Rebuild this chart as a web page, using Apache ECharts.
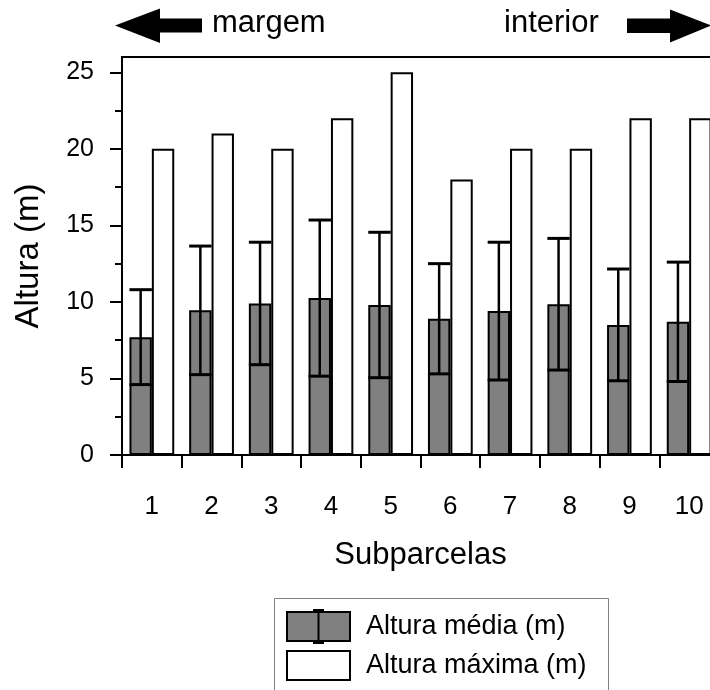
<!DOCTYPE html>
<html>
<head>
<meta charset="utf-8">
<title>Altura por subparcela</title>
<script src="https://cdn.jsdelivr.net/npm/echarts@6/dist/echarts.min.js"></script>
<style>
  html, body { margin: 0; padding: 0; background: #fff; }
  #chart { width: 710px; height: 690px; }
</style>
</head>
<body>
<div id="chart"></div>
<script>
// Subplots ordered from the forest edge (margem) to the interior
const subparcelas = ['1', '2', '3', '4', '5', '6', '7', '8', '9', '10'];
// Mean tree height per subplot (m)
const alturaMedia = [7.7, 9.45, 9.9, 10.25, 9.8, 8.9, 9.4, 9.85, 8.5, 8.7];
// Standard deviation of the height (m), drawn as error bars
const desvioPadrao = [3.1, 4.2, 4.0, 5.1, 4.75, 3.6, 4.5, 4.3, 3.65, 3.9];
// Maximum tree height per subplot (m)
const alturaMaxima = [20, 21, 20, 22, 25, 18, 20, 20, 22, 22];
// Y axis tick values
const ticksPrincipais = [0, 5, 10, 15, 20, 25];
const ticksSecundarios = [2.5, 7.5, 12.5, 17.5, 22.5];

const NOME_MEDIA = 'Altura média (m)';
const NOME_MAXIMA = 'Altura máxima (m)';
const FONTE = '"Liberation Sans", Arial, Helvetica, sans-serif';
const CATEGORY_GAP = 0.25;

const chart = echarts.init(document.getElementById('chart'), null, { renderer: 'canvas' });

const erroDados = alturaMedia.map((m, i) => [i, m, desvioPadrao[i]]);

// Whisker-on-box glyph for the mean series legend entry (63 x 33 box)
const iconeMedia = 'path://M0,2 L63,2 L63,31 L0,31 Z M31.5,0 L31.5,33 M26,0 L37,0 M26,33 L37,33';

const option = {
  backgroundColor: '#fff',
  animation: false,
  textStyle: { fontFamily: FONTE, color: '#000' },
  grid: {
    left: 122, top: 57, right: -9, bottom: 235,
    show: true, borderColor: '#000', borderWidth: 2,
    backgroundColor: 'transparent',
    containLabel: false,
    outerBoundsMode: 'none'
  },
  xAxis: {
    type: 'category',
    data: subparcelas,
    name: 'Subparcelas',
    nameLocation: 'middle',
    nameGap: 85,
    nameTextStyle: { fontSize: 31, color: '#000', fontFamily: FONTE },
    axisLine: { lineStyle: { color: '#000', width: 2 } },
    axisTick: { show: true, length: 13, lineStyle: { color: '#000', width: 2 } },
    axisLabel: { fontSize: 26, color: '#000', margin: 39, fontFamily: FONTE },
    splitLine: { show: false }
  },
  yAxis: [
    {
      type: 'value',
      min: 0, max: 26,
      interval: 5,
      name: 'Altura (m)',
      nameLocation: 'middle',
      nameGap: 77,
      nameTextStyle: { fontSize: 33, color: '#000', fontFamily: FONTE },
      axisLine: { show: true, lineStyle: { color: '#000', width: 2 } },
      axisTick: { show: true, length: 12, customValues: ticksPrincipais, lineStyle: { color: '#000', width: 2 } },
      axisLabel: { fontSize: 25, color: '#000', margin: 28, customValues: ticksPrincipais, fontFamily: FONTE },
      splitLine: { show: false }
    },
    {
      type: 'value',
      position: 'left',
      min: 0, max: 26,
      interval: 5,
      axisLine: { show: false },
      axisTick: { show: true, length: 7, customValues: ticksSecundarios, lineStyle: { color: '#000', width: 2 } },
      axisLabel: { show: false },
      splitLine: { show: false }
    }
  ],
  legend: [
    {
      data: [{ name: NOME_MEDIA, icon: iconeMedia }],
      left: 286, top: 609,
      padding: 0,
      itemWidth: 63, itemHeight: 33,
      selectedMode: false,
      textStyle: { fontSize: 27, color: '#000', fontFamily: FONTE, padding: [0, 0, 0, 11] }
    },
    {
      data: [{ name: NOME_MAXIMA, icon: 'rect' }],
      left: 286, top: 650,
      padding: 0,
      itemWidth: 63, itemHeight: 29,
      selectedMode: false,
      textStyle: { fontSize: 27, color: '#000', fontFamily: FONTE, padding: [0, 0, 0, 11] }
    }
  ],
  graphic: [
    // Legend frame
    {
      type: 'rect', left: 272, top: 596, silent: true,
      shape: { x: 0, y: 0, width: 334, height: 120 },
      style: { fill: 'none', stroke: '#808080', lineWidth: 1 }
    },
    // Arrow pointing to the edge
    {
      type: 'polygon', silent: true,
      shape: { points: [[115, 25.5], [160, 8.5], [160, 18.5], [202, 18.5], [202, 32.5], [160, 32.5], [160, 43]] },
      style: { fill: '#000' }
    },
    {
      type: 'text', x: 212, y: 23, silent: true,
      style: { text: 'margem', font: '31px ' + FONTE, fill: '#000', verticalAlign: 'middle', align: 'left' }
    },
    {
      type: 'text', x: 504, y: 23, silent: true,
      style: { text: 'interior', font: '31px ' + FONTE, fill: '#000', verticalAlign: 'middle', align: 'left' }
    },
    // Arrow pointing to the interior
    {
      type: 'polygon', silent: true,
      shape: { points: [[711, 25.5], [670, 9.5], [670, 18.5], [627, 18.5], [627, 33], [670, 33], [670, 42.5]] },
      style: { fill: '#000' }
    }
  ],
  series: [
    {
      name: NOME_MEDIA,
      type: 'bar',
      data: alturaMedia,
      barGap: '0%',
      barCategoryGap: (CATEGORY_GAP * 100) + '%',
      itemStyle: { color: '#808080', borderColor: '#000', borderWidth: 2 },
      emphasis: { disabled: true }
    },
    {
      name: NOME_MAXIMA,
      type: 'bar',
      data: alturaMaxima,
      barGap: '0%',
      barCategoryGap: (CATEGORY_GAP * 100) + '%',
      itemStyle: { color: '#fff', borderColor: '#000', borderWidth: 2 },
      emphasis: { disabled: true }
    },
    {
      name: 'Desvio padrão',
      type: 'custom',
      data: erroDados,
      z: 5,
      silent: true,
      encode: { x: 0, y: 1 },
      renderItem: function (params, api) {
        const idx = api.value(0);
        const media = api.value(1);
        const dp = api.value(2);
        const band = api.size([1, 0])[0];
        const barW = band * (1 - CATEGORY_GAP) / 2;
        const cx = api.coord([idx, 0])[0] - barW / 2;
        const yTop = api.coord([idx, media + dp])[1];
        const yBot = api.coord([idx, media - dp])[1];
        const half = barW / 2;
        const traco = { stroke: '#000', lineWidth: 2.5 };
        const capa = { stroke: '#000', lineWidth: 3 };
        return {
          type: 'group',
          children: [
            { type: 'line', shape: { x1: cx, y1: yTop, x2: cx, y2: yBot }, style: traco },
            { type: 'line', shape: { x1: cx - half, y1: yTop, x2: cx + half, y2: yTop }, style: capa },
            { type: 'line', shape: { x1: cx - half, y1: yBot, x2: cx + half, y2: yBot }, style: capa }
          ]
        };
      }
    }
  ]
};

chart.setOption(option);
</script>
</body>
</html>
